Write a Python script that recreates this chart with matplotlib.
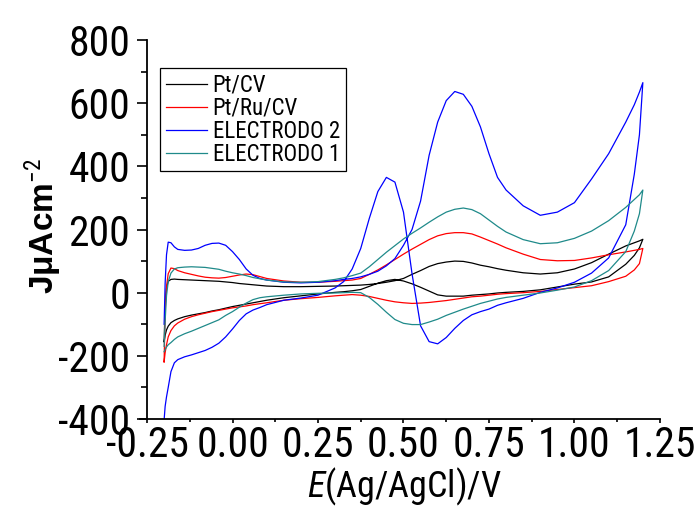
import matplotlib
matplotlib.use("Agg")
import matplotlib.pyplot as plt
from matplotlib import font_manager
from matplotlib.ticker import MultipleLocator
import numpy as np

# potential grid (V vs Ag/AgCl), shared by both sweeps
potential = [-0.2, -0.197, -0.193, -0.188, -0.18, -0.17, -0.16, -0.14, -0.12, -0.1,
             -0.08, -0.06, -0.04, -0.02, 0.0, 0.02, 0.04, 0.06, 0.08, 0.1,
             0.15, 0.2, 0.25, 0.3, 0.325, 0.35, 0.375, 0.4, 0.425, 0.45,
             0.475, 0.5, 0.525, 0.55, 0.575, 0.6, 0.625, 0.65, 0.675, 0.7,
             0.725, 0.75, 0.775, 0.8, 0.85, 0.9, 0.95, 1.0, 1.05, 1.1,
             1.15, 1.175, 1.19, 1.2]

# current density (uA cm-2), forward (anodic) and backward (cathodic) sweeps
pt_fwd = [-155, -40, 15, 36, 42, 43, 42, 41, 40, 39,
          38, 37, 36, 34, 32, 29, 27, 25, 23, 21,
          19, 19, 20, 21, 22, 23, 24, 26, 29, 33,
          38, 45, 58, 70, 83, 92, 97, 100, 99, 94,
          87, 82, 76, 71, 63, 59, 63, 75, 95, 122,
          148, 158, 164, 169]
pt_rev = [-155, -135, -118, -106, -95, -88, -83, -76, -71, -67,
          -63, -58, -54, -49, -44, -40, -36, -32, -28, -24,
          -16, -10, -4, 1, 3, 6, 10, 20, 30, 38,
          42, 37, 28, 17, 5, -7, -11, -11, -11, -8,
          -6, -4, -1, 1, 4, 9, 18, 27, 34, 50,
          90, 118, 142, 169]

ptru_fwd = [-219, -60, 20, 60, 78, 76, 70, 63, 58, 53,
            49, 47, 46, 48, 52, 56, 59, 57, 51, 45,
            37, 33, 33, 36, 38, 40, 45, 58, 72, 88,
            105, 122, 138, 153, 168, 180, 187, 190, 190, 186,
            176, 165, 154, 142, 122, 105, 101, 102, 110, 120,
            129, 134, 137, 140]
ptru_rev = [-219, -190, -165, -140, -120, -105, -96, -84, -76, -70,
            -65, -60, -56, -52, -48, -45, -42, -38, -35, -32,
            -24, -19, -15, -10, -8, -6, -8, -12, -18, -24,
            -29, -32, -34, -33, -31, -28, -25, -21, -17, -13,
            -11, -8, -5, -3, 0, 4, 10, 16, 22, 35,
            52, 72, 92, 140]

el2_fwd = [-100, 30, 120, 160, 158, 145, 137, 134, 135, 140,
           150, 156, 157, 150, 130, 105, 75, 55, 45, 40,
           33, 31, 33, 38, 42, 45, 50, 58, 68, 85,
           108, 150, 200, 290, 435, 540, 608, 637, 628, 590,
           525, 440, 365, 325, 275, 245, 255, 285, 360, 440,
           540, 595, 635, 665]
el2_rev = [-403, -360, -330, -300, -250, -222, -212, -203, -197, -190,
           -183, -173, -160, -140, -115, -88, -67, -55, -47, -38,
           -24, -17, -8, 15, 35, 75, 140, 235, 320, 365,
           350, 255, 60, -105, -155, -162, -142, -113, -88, -70,
           -60, -52, -40, -32, -18, 1, 15, 33, 62, 110,
           215, 375, 500, 665]

el1_fwd = [-170, -90, -10, 35, 62, 75, 79, 81, 82, 81,
           80, 77, 74, 68, 63, 59, 54, 48, 44, 40,
           34, 33, 35, 42, 47, 54, 62, 82, 105, 128,
           149, 170, 188, 205, 223, 240, 255, 264, 268, 263,
           250, 230, 210, 192, 168, 155, 158, 172, 195, 228,
           270, 295, 310, 325]
el1_rev = [-187, -180, -172, -165, -158, -148, -140, -130, -122, -113,
           -104, -95, -86, -72, -60, -46, -33, -22, -16, -13,
           -8, -4, -2, -1, 0, 1, 0, -15, -37, -62,
           -85, -97, -101, -101, -93, -84, -72, -62, -52, -43,
           -34, -27, -20, -15, -8, -1, 8, 18, 38, 70,
           130, 195, 250, 325]

labels = ["Pt/CV", "Pt/Ru/CV", "ELECTRODO 2", "ELECTRODO 1"]
colors = ["black", "#ff0000", "#0000ff", "#1f8a8a"]
xtick_labels = ["-0.25", "0.00", "0.25", "0.50", "0.75", "1.00", "1.25"]

installed = {f.name for f in font_manager.fontManager.ttflist}
FONT = "Liberation Sans"
for name in ["Liberation Sans Narrow", "Arial Narrow", "Roboto Condensed",
             "Sofia Sans Condensed"]:
    if name in installed:
        FONT = name
        break

plt.rcParams["font.family"] = [FONT, "DejaVu Sans"]
plt.rcParams["axes.unicode_minus"] = False
plt.rcParams["mathtext.fontset"] = "custom"
plt.rcParams["mathtext.rm"] = FONT
plt.rcParams["mathtext.it"] = FONT + ":italic"
plt.rcParams["mathtext.bf"] = FONT + ":bold"


def main():
    fig = plt.figure(figsize=(6.96, 5.14), dpi=100)
    ax = fig.add_axes([0.2014, 0.1848, 0.7468, 0.7374])

    e = np.array(potential)
    series = [(pt_fwd, pt_rev), (ptru_fwd, ptru_rev),
              (el2_fwd, el2_rev), (el1_fwd, el1_rev)]
    for (fwd, rev), lab, col in zip(series, labels, colors):
        x = np.concatenate([e, e[::-1]])
        y = np.concatenate([fwd, rev[::-1]])
        ax.plot(x, y, color=col, lw=0.9, label=lab)

    ax.set_xlim(-0.27, 1.25)
    ax.set_ylim(-400, 800)
    ax.spines["left"].set_position(("data", -0.25))
    ax.spines["top"].set_visible(False)
    ax.spines["right"].set_visible(False)
    for s in ("left", "bottom"):
        ax.spines[s].set_linewidth(1.3)

    ax.xaxis.set_minor_locator(MultipleLocator(0.125))
    ax.yaxis.set_major_locator(MultipleLocator(200))
    ax.yaxis.set_minor_locator(MultipleLocator(100))
    ax.set_xticks(np.arange(-0.25, 1.26, 0.25))
    ax.set_xticklabels(xtick_labels)

    ax.tick_params(axis="y", which="major", direction="out", length=7, width=1.2,
                   labelsize=30, pad=5)
    ax.tick_params(axis="y", which="minor", direction="out", length=4, width=1.2)
    ax.tick_params(axis="x", which="major", direction="out", length=3, width=1.2,
                   labelsize=30, pad=1)
    ax.tick_params(axis="x", which="minor", direction="out", length=2, width=1.2)

    ax.set_xlabel("$E$(Ag/AgCl)/V", fontsize=26)
    ax.xaxis.set_label_coords(0.509, -0.125)
    ax.set_ylabel("JμAcm$^{-2}$", fontsize=24, fontweight="bold",
                  family=["Liberation Sans", "DejaVu Sans"])
    ax.yaxis.set_label_coords(-0.1485, 0.51)

    leg = ax.legend(loc="upper left", bbox_to_anchor=(0.038, 0.926),
                    borderaxespad=0, fontsize=16.5, frameon=True, fancybox=False,
                    edgecolor="black", framealpha=1, labelspacing=0.0,
                    handlelength=1.8, handletextpad=0.25, borderpad=0.25)
    leg.get_frame().set_linewidth(0.9)

    fig.savefig("out.png", dpi=100)
    plt.close(fig)


if __name__ == "__main__":
    main()
